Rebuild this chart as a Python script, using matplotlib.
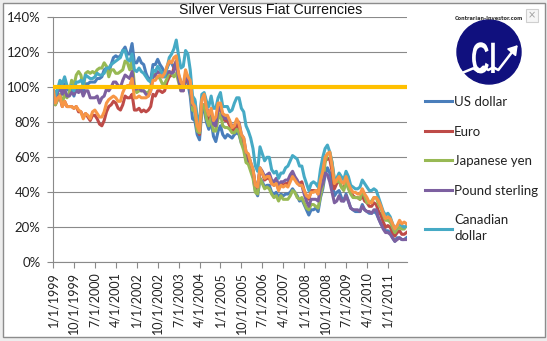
import matplotlib.pyplot as plt
import pandas as pd
from matplotlib.patches import Rectangle, Circle, PathPatch
from matplotlib.textpath import TextPath
from matplotlib.font_manager import FontProperties
from matplotlib.transforms import Affine2D

# value of one unit of each currency measured in silver, Jan 1999 = 100%
us_dollar = [100, 94, 99, 102, 98, 102, 99, 98, 99, 95, 100, 99,
             99, 98, 102, 102, 103, 103, 103, 105, 105, 106, 110, 111,
             109, 113, 117, 118, 117, 118, 121, 123, 119, 119, 125, 114,
             114, 117, 114, 113, 108, 105, 104, 113, 113, 116, 113, 111,
             108, 111, 114, 114, 111, 114, 107, 103, 100, 105, 102, 95,
             82, 81, 73, 70, 87, 87, 80, 76, 81, 72, 69, 75,
             78, 73, 71, 73, 72, 71, 73, 74, 73, 68, 67, 60,
             57, 54, 50, 41, 38, 48, 46, 43, 44, 44, 40, 39,
             40, 37, 39, 38, 39, 39, 40, 42, 40, 38, 35, 36,
             33, 30, 27, 30, 30, 31, 29, 37, 42, 50, 54, 51,
             46, 38, 40, 41, 37, 35, 39, 35, 31, 30, 29, 29,
             29, 33, 30, 29, 28, 28, 29, 28, 25, 22, 20, 18,
             18, 17, 14, 12, 14, 14, 13, 13, 14]
euro = [100, 90, 93, 94, 89, 92, 89, 89, 89, 88, 89, 86,
        86, 83, 85, 83, 81, 84, 84, 82, 79, 78, 81, 86,
        89, 90, 92, 91, 88, 87, 90, 95, 94, 94, 96, 87,
        87, 88, 86, 87, 86, 87, 89, 96, 95, 98, 98, 97,
        98, 103, 106, 107, 111, 115, 106, 99, 98, 106, 103, 100,
        89, 88, 77, 73, 90, 90, 84, 80, 85, 78, 78, 87,
        88, 82, 81, 81, 78, 75, 76, 79, 76, 71, 68, 61,
        60, 55, 52, 44, 42, 53, 51, 47, 48, 48, 45, 44,
        45, 42, 45, 44, 45, 45, 48, 50, 48, 46, 45, 46,
        41, 38, 36, 41, 41, 41, 39, 48, 52, 58, 59, 59,
        52, 42, 45, 47, 43, 42, 47, 43, 40, 38, 37, 37,
        36, 38, 35, 34, 32, 32, 34, 33, 29, 27, 23, 20,
        21, 20, 17, 15, 17, 18, 16, 16, 17]
japanese_yen = [100, 90, 93, 96, 91, 96, 94, 97, 104, 101, 107, 109,
                107, 100, 108, 109, 108, 109, 108, 110, 111, 111, 114, 112,
                106, 110, 110, 108, 108, 109, 110, 115, 114, 110, 116, 101,
                97, 98, 98, 98, 97, 97, 100, 108, 106, 106, 105, 102,
                102, 105, 109, 108, 106, 108, 103, 98, 99, 108, 106, 99,
                87, 86, 75, 74, 88, 90, 82, 78, 83, 75, 75, 82,
                85, 78, 77, 77, 76, 74, 74, 76, 74, 68, 64, 57,
                56, 52, 48, 40, 39, 48, 45, 42, 43, 42, 39, 37,
                38, 35, 38, 36, 36, 36, 38, 41, 40, 37, 36, 37,
                34, 31, 30, 33, 33, 32, 31, 38, 44, 57, 62, 63,
                57, 47, 46, 47, 43, 41, 46, 42, 39, 37, 37, 37,
                36, 41, 38, 34, 34, 35, 37, 37, 33, 31, 27, 24,
                24, 23, 20, 17, 19, 20, 19, 19, 21]
pound_sterling = [100, 92, 97, 100, 96, 99, 95, 95, 97, 96, 98, 97,
                  99, 95, 98, 98, 94, 94, 94, 95, 91, 94, 95, 99,
                  98, 100, 103, 103, 101, 100, 104, 107, 106, 105, 109, 99,
                  99, 100, 98, 98, 96, 95, 98, 106, 107, 109, 108, 106,
                  106, 108, 109, 108, 109, 115, 105, 98, 98, 107, 105, 100,
                  90, 92, 80, 77, 94, 96, 89, 84, 87, 79, 78, 88,
                  89, 84, 82, 83, 80, 78, 78, 81, 80, 73, 71, 63,
                  61, 57, 53, 44, 43, 54, 52, 49, 50, 51, 47, 46,
                  48, 44, 46, 46, 47, 47, 50, 52, 49, 47, 44, 44,
                  39, 35, 32, 36, 36, 36, 35, 42, 45, 51, 50, 46,
                  40, 34, 35, 38, 35, 35, 38, 35, 31, 30, 30, 30,
                  29, 32, 30, 29, 29, 28, 30, 30, 25, 22, 19, 17,
                  17, 16, 14, 12, 13, 14, 13, 13, 13]
canadian_dollar = [100, 95, 99, 104, 102, 106, 101, 100, 101, 98, 103, 103,
                   104, 102, 107, 106, 105, 105, 106, 108, 107, 107, 108, 111,
                   111, 113, 114, 115, 116, 117, 121, 121, 116, 115, 119, 110,
                   109, 111, 109, 108, 106, 104, 103, 110, 109, 112, 110, 108,
                   106, 111, 117, 119, 122, 127, 118, 111, 112, 121, 119, 110,
                   95, 93, 83, 80, 96, 97, 92, 89, 95, 88, 88, 94,
                   97, 89, 89, 89, 86, 87, 91, 94, 94, 88, 86, 78,
                   75, 71, 65, 55, 52, 66, 62, 58, 60, 60, 53, 51,
                   52, 48, 51, 51, 54, 55, 58, 61, 60, 59, 55, 55,
                   49, 45, 41, 45, 46, 45, 43, 53, 60, 65, 67, 63,
                   57, 47, 48, 51, 49, 47, 52, 49, 44, 43, 42, 42,
                   43, 47, 45, 43, 41, 41, 42, 41, 37, 33, 29, 27,
                   28, 26, 22, 19, 21, 22, 21, 20, 21]
# sixth series (orange) that has no entry in the legend
extra_series = [100, 91, 94, 95, 89, 92, 89, 89, 89, 88, 89, 87,
                86, 82, 85, 84, 82, 86, 87, 85, 83, 83, 86, 91,
                93, 94, 95, 94, 92, 92, 97, 100, 101, 101, 105, 94,
                94, 95, 94, 94, 94, 95, 98, 104, 104, 106, 107, 106,
                108, 112, 115, 114, 117, 118, 108, 103, 101, 110, 106, 104,
                91, 89, 78, 75, 93, 96, 88, 84, 88, 81, 83, 91,
                91, 85, 84, 84, 81, 77, 78, 82, 79, 73, 71, 63,
                62, 57, 53, 44, 43, 54, 51, 48, 49, 49, 45, 44,
                45, 41, 44, 43, 44, 43, 46, 49, 47, 45, 44, 44,
                41, 38, 37, 40, 40, 41, 39, 47, 52, 60, 62, 63,
                55, 45, 47, 49, 46, 45, 49, 45, 42, 40, 40, 39,
                39, 42, 39, 37, 34, 34, 37, 37, 35, 32, 28, 25,
                26, 25, 22, 19, 21, 24, 22, 23, 22]
par_level = 100

months = pd.date_range("1999-01-01", periods=len(us_dollar), freq="MS")
month_labels = [f"{d.month}/{d.day}/{d.year}" for d in months]
tick_step = 9

series = [
    ("US dollar", us_dollar, "#4A7EBB"),
    ("Euro", euro, "#BE4B48"),
    ("Japanese yen", japanese_yen, "#98B954"),
    ("Pound sterling", pound_sterling, "#7D60A0"),
    ("Canadian\ndollar", canadian_dollar, "#46AAC5"),
    ("_extra", extra_series, "#F79646"),
]

W, H = 547, 341
fig = plt.figure(figsize=(W / 100, H / 100), dpi=100)
fig.patch.set_facecolor("#EDEDED")
fig.patches.append(Rectangle((3 / W, 4 / H), 542 / W, 334 / H, transform=fig.transFigure,
                             facecolor="white", edgecolor="#8C8C8C", lw=1.0, zorder=-10))

ax = fig.add_axes([53 / W, 78.7 / H, 353.5 / W, 245 / H])
ax.set_facecolor("none")
x = list(range(len(us_dollar)))
handles = []
for name, vals, col in series:
    ln, = ax.plot(x, vals, color=col, lw=2.2, label=name, solid_joinstyle="round")
    handles.append(ln)
ax.axhline(par_level, color="#FFC000", lw=3.0, zorder=5)

ax.set_xlim(0, len(us_dollar) - 1)
ax.set_ylim(0, 140)
ax.set_yticks(range(0, 141, 20))
ax.set_yticklabels([f"{v}%" for v in range(0, 141, 20)], fontfamily="Lato", fontsize=9.5, color="#222222")
ax.set_xticks(x[::tick_step])
ax.set_xticklabels(month_labels[::tick_step], rotation=90, fontfamily="Lato", fontsize=9, color="#222222")
ax.grid(axis="y", color="#8A8A8A", lw=0.8)
ax.set_axisbelow(True)
for s in ["top", "right"]:
    ax.spines[s].set_visible(False)
for s in ["left", "bottom"]:
    ax.spines[s].set_color("#8A8A8A")
    ax.spines[s].set_linewidth(0.8)
ax.tick_params(axis="both", direction="out", length=4, width=0.8, color="#8A8A8A")
ax.tick_params(axis="y", pad=5)
ax.tick_params(axis="x", pad=3)

fig.text(270.5 / W, 1 - 10.5 / H, "Silver Versus Fiat Currencies", ha="center", va="center",
         fontfamily="Liberation Sans", fontsize=10.2, color="#111111")

leg = ax.legend(handles=handles[:5], loc="upper left", bbox_to_anchor=(425 / W, 1 - 96 / H),
                bbox_transform=fig.transFigure, frameon=False, borderpad=0, borderaxespad=0,
                handlelength=2.05, handletextpad=0.15, labelspacing=1.33,
                prop={"family": "Lato", "size": 9.5})
for t in leg.get_texts():
    t.set_color("#222222")
    t.set_linespacing(1.4)

# logo
lx, ly = 489, 52
lax = fig.add_axes([(lx - 45) / W, (H - ly - 45) / H, 90 / W, 90 / H])
lax.set_xlim(-45, 45)
lax.set_ylim(-45, 45)
lax.axis("off")
lax.add_patch(Circle((0, 0), 32, color="#10107E"))
tp = TextPath((0, 0), "CI", size=44, prop=FontProperties(family="Liberation Sans", weight="bold"))
tp = tp.transformed(Affine2D().scale(0.58, 1.0).translate(-18, -21))
lax.add_patch(PathPatch(tp, facecolor="white", edgecolor="none"))
zig_x = [-27, -15.7, -10.7, -5.7, -0.7, 4.3, 9.3, 27]
zig_y = [-21, -16.3, -19.7, -14.7, -18, -15.3, -18, 5]
lax.plot(zig_x, zig_y, color="white", lw=1.8, solid_capstyle="round", solid_joinstyle="round")
lax.annotate("", xy=(30.5, 9), xytext=(25, 2.5),
             arrowprops=dict(arrowstyle="-|>,head_length=0.55,head_width=0.35", color="white", lw=1.2))
fig.text(489 / W, 1 - 19 / H, "Contrarian-Investor.com", ha="center", va="center",
         fontfamily="DejaVu Sans", fontsize=3.6, fontweight="bold", color="#333333")

fig.text(532 / W, 1 - 15.5 / H, "\u00d7", ha="center", va="center", fontsize=7, color="#A0A0A0",
         bbox=dict(boxstyle="square,pad=0.2", fc="#F6F6F6", ec="#CFCFCF", lw=0.8))

fig.savefig("out.png", dpi=100, facecolor=fig.get_facecolor())
